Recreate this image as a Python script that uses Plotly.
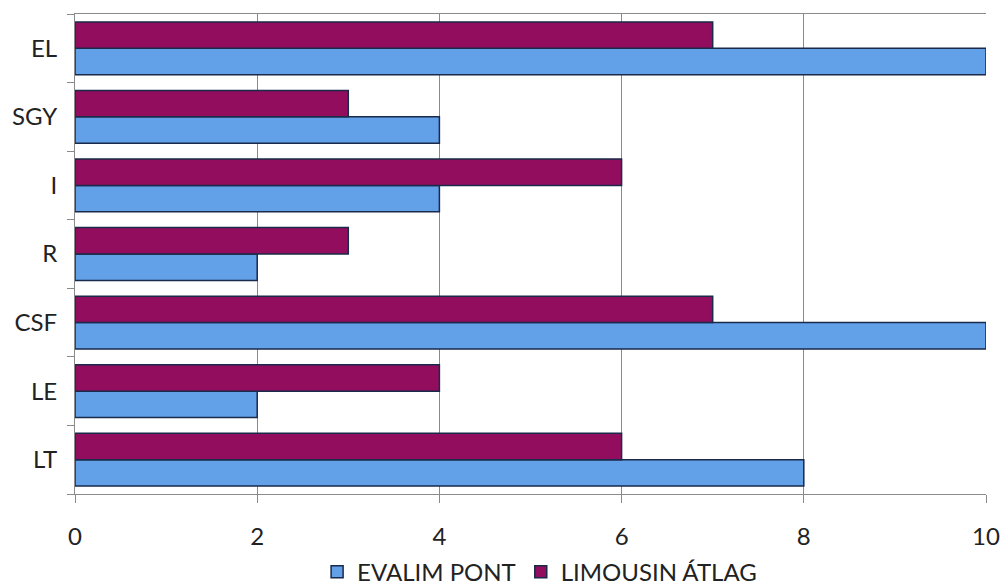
import plotly.graph_objects as go

categories = ["LT", "LE", "CSF", "R", "I", "SGY", "EL"]
evalim_pont = [8, 2, 10, 2, 4, 4, 10]
limousin_atlag = [6, 4, 7, 3, 6, 3, 7]
x_ticks = [0, 2, 4, 6, 8, 10]

FONT = "Lato"
fig = go.Figure()
fig.add_trace(go.Bar(
    y=categories, x=evalim_pont, orientation="h", name="EVALIM PONT",
    marker=dict(color="#62a0e8", line=dict(color="#1a2a4a", width=1.5)),
))
fig.add_trace(go.Bar(
    y=categories, x=limousin_atlag, orientation="h", name="LIMOUSIN ÁTLAG",
    marker=dict(color="#930d5f", line=dict(color="#1a2a4a", width=1.5)),
))

fig.update_layout(
    width=1003, height=587,
    margin=dict(l=75, r=17, t=14, b=93, autoexpand=False),
    paper_bgcolor="white", plot_bgcolor="white",
    barmode="group", bargap=0.23, bargroupgap=0,
    font=dict(family=FONT, size=24, color="#222222"),
    legend=dict(orientation="h", xref="paper", x=0.51, xanchor="center",
                yref="paper", y=-0.163, yanchor="middle",
                font=dict(size=24), itemwidth=30, traceorder="normal"),
    showlegend=True,
)
fig.update_xaxes(
    range=[0, 10], tickvals=x_ticks, showgrid=True, gridcolor="#8a8a8a", gridwidth=1,
    showline=True, linecolor="#8a8a8a", linewidth=1, mirror=True,
    ticks="outside", ticklen=8, tickcolor="#8a8a8a", ticklabelstandoff=13,
    zeroline=False, automargin=False,
)
fig.update_yaxes(
    showgrid=False, showline=True, linecolor="#8a8a8a", linewidth=1,
    ticks="outside", ticklen=7, tickcolor="#8a8a8a", tickson="boundaries",
    ticklabelstandoff=12, automargin=False,
)
fig.write_html("out.html", config={"displayModeBar": False},
               post_script="document.body.style.margin='0';document.body.style.overflow='hidden';")
